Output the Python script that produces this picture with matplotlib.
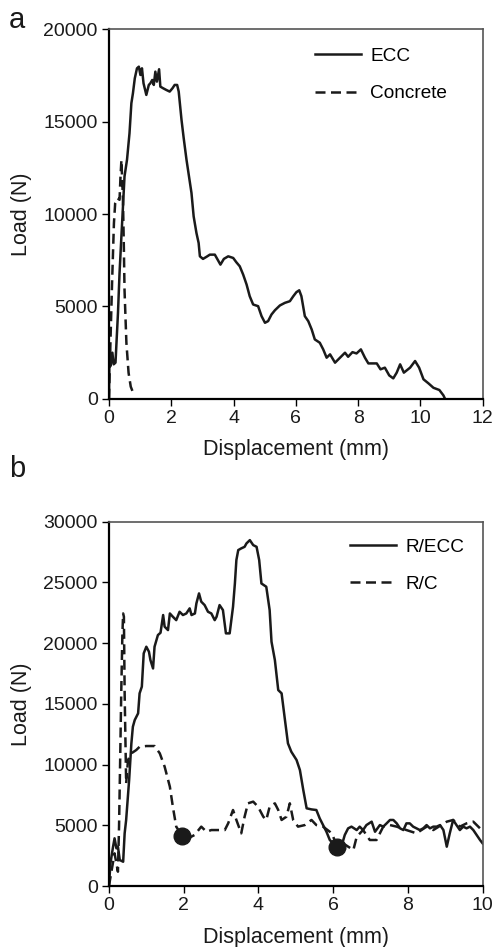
import matplotlib
matplotlib.use("Agg")
import matplotlib.pyplot as plt

plt.rcParams['font.family'] = ['Liberation Sans', 'DejaVu Sans']

# (a) beam tests, displacement in mm, load in N
ecc_x = [0.00, 0.02, 0.05, 0.11, 0.15, 0.21, 0.29, 0.34, 0.40, 0.45, 0.50, 0.58, 0.66, 0.72,
         0.77, 0.83, 0.90, 0.96, 1.01, 1.06, 1.11, 1.20, 1.28, 1.33, 1.39, 1.44, 1.49, 1.54,
         1.61, 1.65, 1.74, 1.84, 1.95, 2.04, 2.11, 2.19, 2.24, 2.33, 2.40, 2.49, 2.57, 2.65,
         2.72, 2.81, 2.88, 2.92, 3.02, 3.13, 3.24, 3.40, 3.50, 3.58, 3.69, 3.83, 3.99, 4.09,
         4.20, 4.31, 4.42, 4.52, 4.63, 4.79, 4.90, 5.01, 5.11, 5.22, 5.33, 5.49, 5.65, 5.81,
         5.92, 6.02, 6.11, 6.18, 6.29, 6.40, 6.51, 6.61, 6.77, 6.88, 6.99, 7.10, 7.26, 7.42,
         7.58, 7.68, 7.82, 7.95, 8.09, 8.22, 8.33, 8.60, 8.72, 8.86, 9.00, 9.13, 9.24, 9.35,
         9.47, 9.67, 9.83, 9.96, 10.10, 10.26, 10.42, 10.61, 10.74, 10.79]
ecc_y = [0, 2940, 1770, 2490, 1860, 1950, 4650, 6810, 8790, 10410, 12040, 12940, 14380, 16000,
         16540, 17350, 17890, 17980, 17530, 17890, 17080, 16450, 16990, 17080, 17260, 16990, 17710, 17170,
         17840, 16900, 16810, 16720, 16630, 16810, 16990, 16990, 16630, 15100, 14110, 12940, 12040, 11140,
         9870, 8970, 8430, 7710, 7570, 7680, 7800, 7800, 7500, 7260, 7570, 7710, 7620, 7390,
         7170, 6720, 6180, 5550, 5100, 5010, 4470, 4110, 4200, 4560, 4790, 5050, 5190, 5280,
         5550, 5770, 5870, 5550, 4470, 4200, 3750, 3210, 3030, 2670, 2220, 2400, 1950, 2220,
         2490, 2270, 2520, 2450, 2670, 2220, 1910, 1910, 1590, 1680, 1260, 1100, 1410, 1860,
         1410, 1680, 2040, 1680, 1050, 830, 590, 470, 180, 0]

conc_x = [0.00, 0.05, 0.10, 0.16, 0.20, 0.27, 0.34, 0.37, 0.40, 0.45, 0.48, 0.50, 0.56, 0.63, 0.70, 0.80]
conc_y = [0, 3190, 6270, 9510, 10590, 10860, 10770, 12000, 12920, 10770, 8050, 5890, 3030, 1400, 650, 220]

# (b) reinforced beams
recc_x = [0.00, 0.04, 0.11, 0.15, 0.20, 0.24, 0.29, 0.38, 0.42, 0.46, 0.54, 0.60, 0.64, 0.69,
          0.78, 0.82, 0.88, 0.93, 1.00, 1.07, 1.11, 1.18, 1.22, 1.31, 1.38, 1.45, 1.49, 1.58,
          1.63, 1.71, 1.80, 1.89, 1.98, 2.07, 2.16, 2.21, 2.30, 2.34, 2.41, 2.47, 2.56, 2.65,
          2.74, 2.83, 2.88, 2.96, 3.05, 3.13, 3.23, 3.32, 3.37, 3.41, 3.46, 3.54, 3.63, 3.68,
          3.77, 3.86, 3.95, 4.02, 4.08, 4.21, 4.30, 4.35, 4.44, 4.53, 4.62, 4.71, 4.79, 4.88,
          5.02, 5.11, 5.20, 5.29, 5.42, 5.55, 5.64, 5.73, 5.82, 5.91, 6.00, 6.11, 6.22, 6.31,
          6.40, 6.49, 6.63, 6.71, 6.80, 6.89, 7.03, 7.12, 7.25, 7.34, 7.43, 7.52, 7.61, 7.70,
          7.79, 7.88, 7.96, 8.05, 8.14, 8.23, 8.32, 8.41, 8.50, 8.59, 8.68, 8.77, 8.86, 8.95,
          9.04, 9.12, 9.21, 9.30, 9.39, 9.48, 9.57, 9.66, 9.75, 9.84, 9.93, 10.00]
recc_y = [0, 1870, 3240, 3930, 3100, 3240, 2140, 2000, 4340, 5440, 8730, 11750, 13120, 13670,
          14220, 15870, 16420, 19160, 19710, 19300, 18610, 17920, 19710, 20670, 20860, 22320, 21360, 21080,
          22450, 22180, 21900, 22590, 22320, 22450, 22870, 22320, 22450, 23280, 24100, 23420, 23140, 22590,
          22450, 21900, 22180, 23140, 22730, 20810, 20810, 23000, 24920, 26850, 27670, 27810, 27940, 28220,
          28490, 28080, 27940, 26850, 24920, 24650, 22730, 20120, 18610, 16140, 15870, 13670, 11750, 11060,
          10380, 9550, 7910, 6400, 6310, 6260, 5570, 5020, 4470, 3790, 3510, 3240, 3240, 4200,
          4750, 4890, 4610, 4890, 4610, 5020, 5300, 4470, 5020, 4890, 5160, 5440, 5440, 5160,
          4750, 4610, 5160, 5160, 4890, 4750, 4610, 4750, 5020, 4750, 4890, 4890, 5020, 4610,
          3240, 4340, 5440, 5020, 4610, 4890, 4750, 4890, 4610, 4200, 3790, 3510]

rc_x = [0.00, 0.15, 0.24, 0.27, 0.30, 0.33, 0.36, 0.38, 0.40, 0.42, 0.45, 0.46, 0.51, 0.60,
        0.73, 0.82, 1.00, 1.22, 1.36, 1.49, 1.63, 1.71, 1.80, 1.96, 2.12, 2.29, 2.47, 2.61,
        2.74, 2.92, 3.10, 3.19, 3.32, 3.41, 3.54, 3.63, 3.72, 3.86, 3.99, 4.13, 4.21, 4.30,
        4.44, 4.53, 4.62, 4.75, 4.84, 4.93, 5.06, 5.24, 5.42, 5.55, 5.73, 5.91, 6.00, 6.11,
        6.27, 6.54, 6.63, 6.80, 6.98, 7.16, 7.34, 7.52, 7.70, 7.96, 8.23, 8.50, 8.68, 9.04,
        9.21, 9.39, 9.57, 9.75, 9.93, 10.00]
rc_y = [0, 2690, 1180, 4890, 10380, 16140, 20810, 22450, 22180, 15870, 10380, 8450, 10380, 10930,
        11200, 11470, 11530, 11530, 10930, 9830, 8180, 6530, 4890, 4120, 3930, 4200, 4890, 4470,
        4610, 4610, 4610, 5160, 6260, 5440, 4340, 5710, 6810, 6950, 6530, 5710, 5440, 6530,
        6810, 6260, 5440, 5710, 6810, 5440, 4890, 5020, 5440, 5020, 4890, 4470, 4060, 3240,
        3510, 2960, 4060, 4610, 3790, 3790, 4890, 5020, 4890, 4610, 4340, 4890, 4610, 5300,
        5440, 4890, 5160, 5300, 4750, 4610]

dot_x = [1.96, 6.11]
dot_y = [4120, 3240]

ink = '#1a1a1a'

fig = plt.figure(figsize=(4.93, 9.47), dpi=100)
ax1 = fig.add_axes([0.221, 0.579, 0.758, 0.390])
ax2 = fig.add_axes([0.221, 0.0644, 0.758, 0.3846])


def style(ax):
    for s in ['left', 'bottom']:
        ax.spines[s].set_linewidth(1.6)
        ax.spines[s].set_color('black')
    for s in ['top', 'right']:
        ax.spines[s].set_linewidth(1.2)
        ax.spines[s].set_color('#555555')
    ax.tick_params(direction='out', length=5, width=1.0, labelsize=14,
                   labelcolor=ink, top=False, right=False, pad=3)
    ax.set_xlabel('Displacement (mm)', fontsize=15.5, color=ink, labelpad=9)
    ax.set_ylabel('Load (N)', fontsize=15.5, color=ink, labelpad=8)


ax1.plot(ecc_x, ecc_y, color=ink, lw=1.8, label='ECC')
ax1.plot(conc_x, conc_y, color=ink, lw=1.8, dashes=(4, 2.2), label='Concrete')
ax1.set_xlim(0, 12)
ax1.set_ylim(0, 20000)
ax1.set_xticks(range(0, 13, 2))
ax1.set_yticks(range(0, 20001, 5000))
style(ax1)
ax1.legend(loc='upper left', bbox_to_anchor=(0.551, 0.95), frameon=False, fontsize=13.7,
           handlelength=2.4, handletextpad=0.5, labelspacing=1.05, borderpad=0, borderaxespad=0)

ax2.plot(recc_x, recc_y, color=ink, lw=1.8, label='R/ECC')
ax2.plot(rc_x, rc_y, color=ink, lw=1.8, dashes=(4, 2.2), label='R/C')
ax2.plot(dot_x, dot_y, 'o', color=ink, ms=12, zorder=5)
ax2.set_xlim(0, 10)
ax2.set_ylim(0, 30000)
ax2.set_xticks(range(0, 11, 2))
ax2.set_yticks(range(0, 30001, 5000))
style(ax2)
ax2.legend(loc='upper left', bbox_to_anchor=(0.645, 0.955), frameon=False, fontsize=13.7,
           handlelength=2.4, handletextpad=0.5, labelspacing=1.05, borderpad=0, borderaxespad=0)

fig.text(0.018, 0.994, 'a', fontsize=21, color=ink, va='top', ha='left')
fig.text(0.018, 0.520, 'b', fontsize=21, color=ink, va='top', ha='left')

fig.savefig('out.png', dpi=100)
